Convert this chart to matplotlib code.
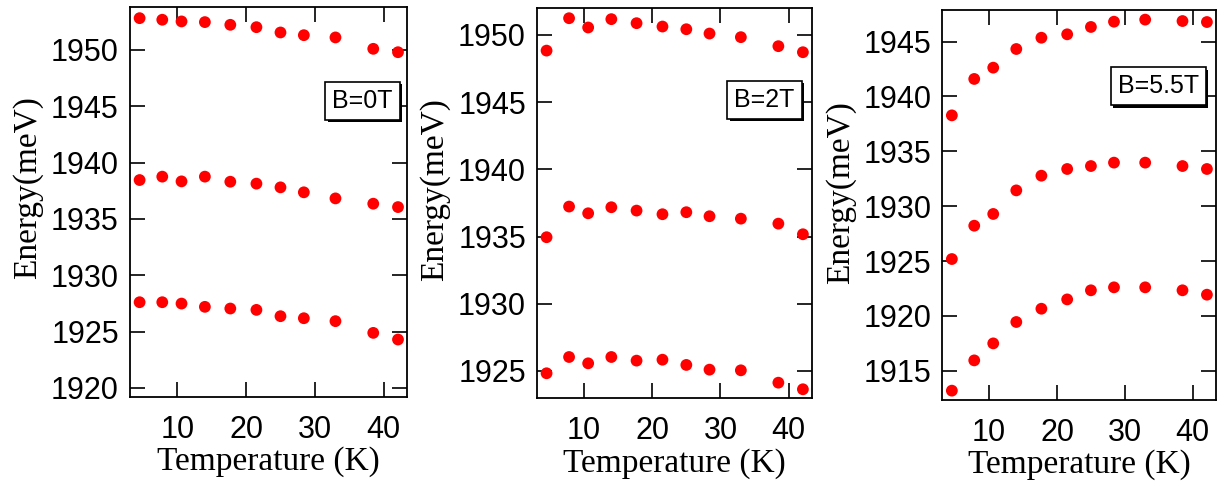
import matplotlib.pyplot as plt
import matplotlib.patheffects as pe

# temperatures (K), same for all three panels
temp = [4.5, 7.8, 10.6, 14.0, 17.7, 21.5, 25.0, 28.4, 33.0, 38.5, 42.1]

# B = 0 T
b0_top = [1952.81, 1952.67, 1952.52, 1952.46, 1952.22, 1952.01, 1951.54, 1951.30, 1951.10, 1950.09, 1949.79]
b0_mid = [1938.45, 1938.75, 1938.33, 1938.75, 1938.30, 1938.13, 1937.80, 1937.36, 1936.82, 1936.35, 1936.05]
b0_low = [1927.61, 1927.61, 1927.49, 1927.20, 1927.05, 1926.93, 1926.37, 1926.19, 1925.93, 1924.89, 1924.30]

# B = 2 T
b2_top = [1948.83, 1951.24, 1950.55, 1951.17, 1950.87, 1950.62, 1950.42, 1950.10, 1949.83, 1949.16, 1948.71]
b2_mid = [1934.95, 1937.23, 1936.73, 1937.18, 1936.93, 1936.66, 1936.81, 1936.51, 1936.33, 1935.96, 1935.17]
b2_low = [1924.83, 1926.04, 1925.57, 1926.04, 1925.77, 1925.84, 1925.45, 1925.10, 1925.05, 1924.13, 1923.64]

# B = 5.5 T
b55_top = [1938.28, 1941.60, 1942.63, 1944.33, 1945.36, 1945.67, 1946.34, 1946.82, 1947.01, 1946.88, 1946.79]
b55_mid = [1925.18, 1928.22, 1929.29, 1931.44, 1932.78, 1933.39, 1933.66, 1933.97, 1933.97, 1933.66, 1933.39]
b55_low = [1913.18, 1915.94, 1917.49, 1919.44, 1920.65, 1921.50, 1922.33, 1922.60, 1922.60, 1922.33, 1921.93]

labels = ['B=0T', 'B=2T', 'B=5.5T']
yticks = [[1920, 1925, 1930, 1935, 1940, 1945, 1950],
          [1925, 1930, 1935, 1940, 1945, 1950],
          [1915, 1920, 1925, 1930, 1935, 1940, 1945]]
ylims = [(1919.2, 1953.8), (1922.97, 1951.98), (1912.33, 1947.89)]
series = [(b0_top, b0_mid, b0_low), (b2_top, b2_mid, b2_low), (b55_top, b55_mid, b55_low)]

fig = plt.figure(figsize=(12.32, 4.86), dpi=100)
axes_pos = [[0.1055, 0.1831, 0.2248, 0.8025],
            [0.4359, 0.1805, 0.2230, 0.8025],
            [0.7649, 0.1770, 0.2219, 0.8025]]
box_pos = [(0.84, 0.759), (0.828, 0.766), (0.79, 0.804)]
ylabel_y = [0.536, 0.534, 0.532]

for i in range(3):
    ax = fig.add_axes(axes_pos[i])
    for s in series[i]:
        ax.scatter(temp, s, s=72, color='#ff0000', edgecolors='none', zorder=3)

    ax.set_xlim(3.1, 43.4)
    ax.set_ylim(*ylims[i])
    ax.set_xticks([10, 20, 30, 40])
    ax.set_yticks(yticks[i])
    ax.tick_params(direction='in', length=11, width=1.2, top=True, right=True,
                   labelsize=22)
    ax.tick_params(axis='x', pad=13)
    ax.tick_params(axis='y', pad=8)
    for lab in ax.get_xticklabels() + ax.get_yticklabels():
        lab.set_fontfamily('Liberation Sans')
    for sp in ax.spines.values():
        sp.set_linewidth(1.3)

    ax.set_xlabel('Temperature (K)', fontfamily='Liberation Serif', fontsize=24, labelpad=1)
    ax.set_ylabel('Energy(meV)', fontfamily='Liberation Serif', fontsize=24, labelpad=6)
    ax.yaxis.set_label_coords(-0.315, ylabel_y[i])

    t = ax.text(box_pos[i][0], box_pos[i][1], labels[i], transform=ax.transAxes,
                ha='center', va='center', fontsize=18, fontfamily='Liberation Sans',
                bbox=dict(boxstyle='square,pad=0.28', fc='white', ec='black', lw=1.2),
                zorder=5)
    t.get_bbox_patch().set_path_effects([
        pe.SimplePatchShadow(offset=(1.8, -1.8), shadow_rgbFace='black', alpha=1.0),
        pe.Normal()])

fig.savefig('out.png', dpi=100)
